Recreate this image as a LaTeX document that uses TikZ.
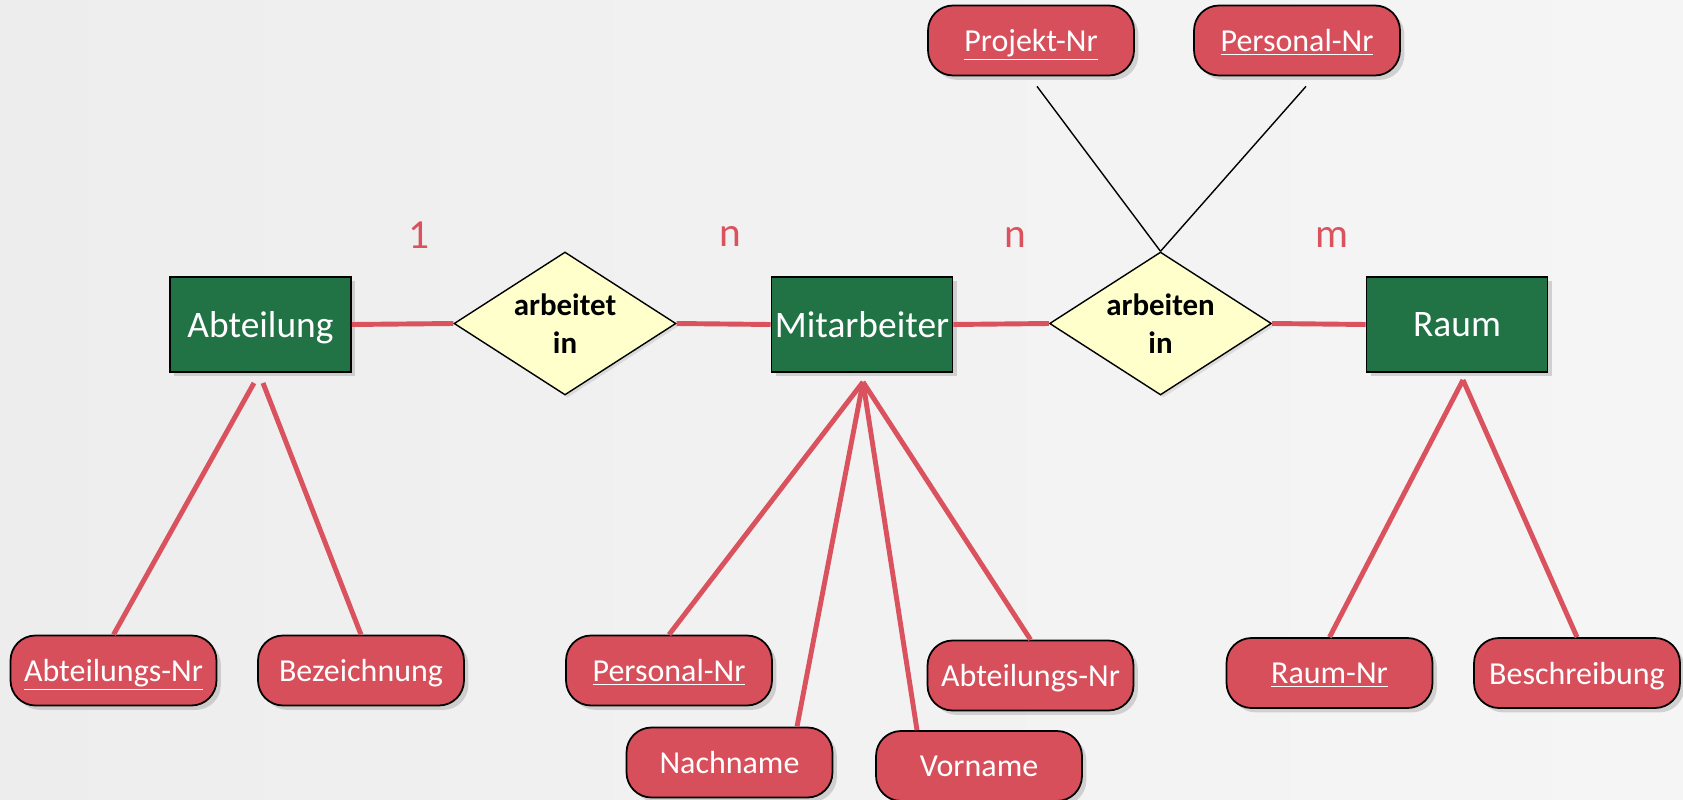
\documentclass[tikz,border=0pt]{standalone}
\usepackage{fontspec}
\setmainfont{Carlito}
\usetikzlibrary{shapes.geometric,shadows,calc}
\definecolor{entgreen}{HTML}{217346}
\definecolor{attred}{HTML}{D64F5B}
\definecolor{relyellow}{HTML}{FFFFCC}
\definecolor{linered}{HTML}{D9525E}
\definecolor{bgleft}{HTML}{EDEDED}
\definecolor{bgright}{HTML}{F5F5F5}

\begin{document}
\begin{tikzpicture}[
  x=0.02cm, y=-0.02cm,
  entity/.style={draw=black, line width=1pt, fill=entgreen, text=white,
    minimum width=3.62cm, minimum height=1.9cm, inner sep=0pt, text depth=0pt,
    font=\fontsize{21.3}{25}\selectfont,
    drop shadow={shadow xshift=2.5pt, shadow yshift=-2.5pt, opacity=0.3}},
  relation/.style={diamond, draw=black, line width=0.8pt, fill=relyellow,
    aspect=1.55, inner sep=0pt, minimum width=4.44cm, minimum height=2.86cm,
    align=center, font=\fontsize{17.6}{21.5}\selectfont\bfseries,
    drop shadow={shadow xshift=1.5pt, shadow yshift=-1.5pt, opacity=0.2}},
  attr/.style={draw=black, line width=1pt, fill=attred, text=white,
    rounded corners=0.5cm, minimum width=4.12cm, minimum height=1.4cm,
    inner sep=0pt, text depth=0pt, font=\fontsize{18.2}{22}\selectfont,
    drop shadow={shadow xshift=2.5pt, shadow yshift=-2.5pt, opacity=0.3}},
  card/.style={text=linered, font=\fontsize{23.5}{27}\selectfont},
  link/.style={linered, line width=2.8pt},
  keylink/.style={black, line width=0.8pt}
]
\useasboundingbox (0,0) rectangle (1683,800);
\fill[left color=bgleft, right color=bgright, middle color=bgright!60!bgleft]
  (0,0) rectangle (1683,800);
% feet of the attribute links
\coordinate (abtfootl) at (254,383);
\coordinate (abtfootr) at (263,383);
\coordinate (mitfoot) at (863,382);
\coordinate (raumfoot) at (1463,380);
% entities and relations
\node[entity] (abt) at (260.5,324.5) {Abteilung};
\node[relation] (arbin) at (565,323.5) {arbeitet\\in};
\node[entity] (mit) at (862,324.5) {Mitarbeiter};
\node[relation] (arbenin) at (1160.5,323.5) {arbeiten\\in};
\node[entity] (raum) at (1457,324.5) {Raum};
% cardinalities
\node[card] (c1) at (419,235) {1};
\node[card] (c2) at (730,236) {n};
\node[card] (c3) at (1015,237) {n};
\node[card] (c4) at (1332,237) {m};
% attributes
\node[attr] (abtnr) at (113.5,670.5) {\underline{Abteilungs-Nr}};
\node[attr] (bez) at (361,670.5) {Bezeichnung};
\node[attr] (persnr) at (669,670.5) {\underline{Personal-Nr}};
\node[attr] (nachn) at (729.5,762.5) {Nachname};
\node[attr] (vorn) at (979,766) {Vorname};
\node[attr] (mabtnr) at (1030.5,675.5) {Abteilungs-Nr};
\node[attr] (raumnr) at (1329.5,673) {\underline{Raum-Nr}};
\node[attr] (beschr) at (1577,673) {Beschreibung};
\node[attr] (projnr) at (1031,40.5) {\underline{Projekt-Nr}};
\node[attr] (ppersnr) at (1297,40.5) {\underline{Personal-Nr}};
% links
\draw[link] (abt.east) -- (arbin.west);
\draw[link] (arbin.east) -- (mit.west);
\draw[link] (mit.east) -- (arbenin.west);
\draw[link] (arbenin.east) -- (raum.west);
\draw[link] (abtfootl) -- (abtnr.north);
\draw[link] (abtfootr) -- (bez.north);
\draw[link] (mitfoot) -- (persnr.north);
\draw[link] (mitfoot) -- ($(nachn.north)+(67.5,0)$);
\draw[link] (mitfoot) -- ($(vorn.north)+(-62,0)$);
\draw[link] (mitfoot) -- (mabtnr.north);
\draw[link] (raumfoot) -- (raumnr.north);
\draw[link] (raumfoot) -- (beschr.north);
\draw[keylink] ($(projnr.south)+(6,10)$) -- (arbenin.north);
\draw[keylink] ($(ppersnr.south)+(9,10)$) -- (arbenin.north);
\end{tikzpicture}
\end{document}
